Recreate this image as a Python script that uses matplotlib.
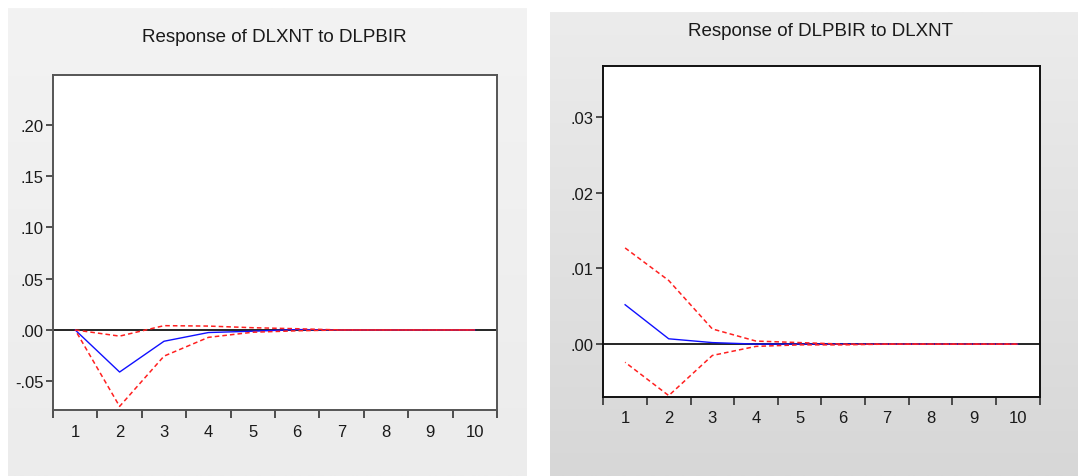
import numpy as np
import matplotlib
matplotlib.use("Agg")
import matplotlib.pyplot as plt
from matplotlib.ticker import FixedLocator, FuncFormatter

plt.rcParams['font.family'] = ['Liberation Sans Narrow', 'Liberation Sans', 'DejaVu Sans']

periods = [1, 2, 3, 4, 5, 6, 7, 8, 9, 10]

# Response of DLXNT to DLPBIR
left_title = "Response of DLXNT to DLPBIR"
left_resp = [0.0, -0.041, -0.011, -0.0025, -0.0012, 0.0004, 0.0, 0.0, 0.0, 0.0]
left_upper = [0.0, -0.006, 0.0042, 0.0038, 0.0022, 0.0012, 0.0, 0.0, 0.0, 0.0]
left_lower = [0.0, -0.0745, -0.0255, -0.0072, -0.0022, -0.0008, 0.0, 0.0, 0.0, 0.0]
left_yticks = [-0.05, 0.0, 0.05, 0.10, 0.15, 0.20]

# Response of DLPBIR to DLXNT
right_title = "Response of DLPBIR to DLXNT"
right_resp = [0.0052, 0.0007, 0.0002, 0.0, 0.0, 0.0, 0.0, 0.0, 0.0, 0.0]
right_upper = [0.0127, 0.0084, 0.0020, 0.0004, 0.0002, 0.0, 0.0, 0.0, 0.0, 0.0]
right_lower = [-0.0024, -0.0068, -0.0015, -0.0003, -0.0001, -0.0001, 0.0, 0.0, 0.0, 0.0]
right_yticks = [0.0, 0.01, 0.02, 0.03]

W, H = 1078, 477
fig = plt.figure(figsize=(W / 100, H / 100), dpi=100)
fig.patch.set_facecolor('white')


def px_rect(x0, y0, x1, y1):
    return [x0 / W, 1 - y1 / H, (x1 - x0) / W, (y1 - y0) / H]


def background(rect, top, bottom):
    bg = fig.add_axes(rect, zorder=-5)
    bg.set_axis_off()
    g = np.linspace(top, bottom, 256).reshape(-1, 1)
    img = np.dstack([g, g, g]) / 255.0
    bg.imshow(img, aspect='auto', extent=[0, 1, 0, 1], interpolation='bilinear')
    bg.set_xlim(0, 1)
    bg.set_ylim(0, 1)


background(px_rect(8, 9, 527, 477), 243, 236)
background(px_rect(550, 13, 1078, 477), 236, 215)


def fmt(v, pos):
    s = "%.2f" % v
    if s.startswith("0"):
        s = s[1:]
    elif s.startswith("-0"):
        s = "-" + s[2:]
    return s


def panel(rect, title, title_xy, resp, upper, lower, yticks, ylim, spine_color):
    ax = fig.add_axes(rect)
    ax.set_facecolor('white')
    ax.set_xlim(0.5, 10.5)
    ax.set_ylim(*ylim)
    ax.axhline(0, color='black', lw=1.2, zorder=1)
    ax.plot(periods, resp, color='#1010ff', lw=1.0, zorder=2)
    ax.plot(periods, upper, color='#ff2020', lw=1.1, linestyle=(0, (3, 2)), zorder=3)
    ax.plot(periods, lower, color='#ff2020', lw=1.1, linestyle=(2.5, (3, 2)), zorder=3)
    for s in ax.spines.values():
        s.set_color(spine_color)
        s.set_linewidth(1.4)
    # major x ticks at boundaries, labels at integer periods (minor)
    ax.xaxis.set_major_locator(FixedLocator(np.arange(0.5, 11.0, 1.0)))
    ax.xaxis.set_major_formatter(FuncFormatter(lambda v, p: ""))
    ax.xaxis.set_minor_locator(FixedLocator(periods))
    ax.xaxis.set_minor_formatter(FuncFormatter(lambda v, p: "%d" % round(v)))
    ax.tick_params(axis='x', which='major', direction='out', length=6, width=1.2,
                   color='#333333')
    ax.tick_params(axis='x', which='minor', length=0, pad=10, labelsize=12,
                   labelcolor='#1a1a1a')
    ax.yaxis.set_major_locator(FixedLocator(yticks))
    ax.yaxis.set_major_formatter(FuncFormatter(fmt))
    ax.tick_params(axis='y', direction='out', length=5, width=1.2, pad=2,
                   labelsize=12, labelcolor='#1a1a1a', color='#333333')
    fig.text(title_xy[0] / W, 1 - title_xy[1] / H, title, ha='center', va='baseline',
             fontsize=13.5, color='#1a1a1a')
    return ax


panel(px_rect(53, 75.7, 497, 411), left_title, (274.3, 41.5),
      left_resp, left_upper, left_lower, left_yticks, (-0.078, 0.2488), '#555555')
panel(px_rect(603.3, 66.7, 1039.5, 397.5), right_title, (821, 36.5),
      right_resp, right_upper, right_lower, right_yticks, (-0.00692, 0.03677), '#111111')

fig.savefig("out.png", dpi=100, facecolor=fig.get_facecolor())
